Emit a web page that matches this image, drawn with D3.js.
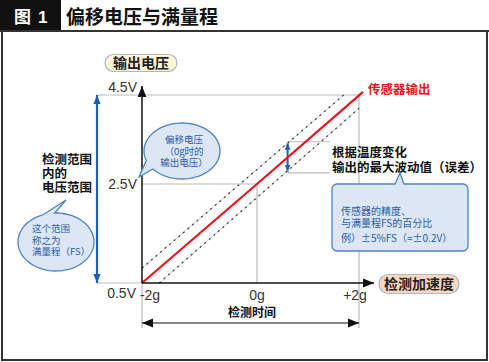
<!DOCTYPE html>
<html>
<head>
<meta charset="utf-8">
<script src="https://cdn.jsdelivr.net/npm/d3@7"></script>
<style>
  html, body { margin: 0; padding: 0; background: #fff; }
  svg { display: block; font-family: "Noto Sans CJK SC", "Noto Sans", sans-serif; }
</style>
</head>
<body>
<div id="chart"></div>
<script>
// ---- data ----
const accelTicks = [-2, 0, 2];
const accelLabels = ["-2g", "0g", "+2g"];
const voltTicks = [0.5, 2.5, 4.5];
const voltLabels = ["0.5V", "2.5V", "4.5V"];
// sensor output (g -> V)
const outputLine = [[-2, 0.5], [0, 2.5], [2.08, 4.57]];
// error band (± visual offset)
const upperBand = [[-2, 0.8], [1.7, 4.5]];
const lowerBand = [[-1.7, 0.5], [2, 4.2]];
const errorAt = 0.6;          // g where the error arrow sits
const errorRange = [2.75, 3.45];

const W = 489, H = 362;

const svg = d3.select("#chart").append("svg")
    .attr("width", W).attr("height", H);

const defs = svg.append("defs");
function marker(id, color, size) {
    defs.append("marker")
        .attr("id", id)
        .attr("viewBox", "0 0 10 10")
        .attr("refX", 10).attr("refY", 5)
        .attr("markerWidth", size).attr("markerHeight", size)
        .attr("markerUnits", "userSpaceOnUse")
        .attr("orient", "auto-start-reverse")
        .append("path")
        .attr("d", "M0,1 L10,5 L0,9 Z")
        .attr("fill", color);
}
marker("arrBlack", "#111", 11);
marker("arrBlue", "#1a5fb4", 9);
marker("arrBlue2", "#1a5fb4", 7);

// ---- frame & title ----
svg.append("rect").attr("x", 0).attr("y", 0).attr("width", 61).attr("height", 31).attr("fill", "#111");
svg.append("text").attr("x", 14).attr("y", 23).attr("fill", "#fff")
    .attr("font-size", 17).attr("font-weight", "bold").text("图");
svg.append("text").attr("x", 38).attr("y", 23).attr("fill", "#fff")
    .attr("font-size", 17).attr("font-weight", "bold")
    .attr("font-family", "Liberation Sans, Arial, sans-serif").text("1");
svg.append("text").attr("x", 66).attr("y", 24).attr("fill", "#111")
    .attr("font-size", 19).attr("font-weight", "bold").text("偏移电压与满量程");
svg.append("line").attr("x1", 0).attr("x2", W).attr("y1", 31).attr("y2", 31)
    .attr("stroke", "#333").attr("stroke-width", 2);
svg.append("path").attr("d", `M2,31 V360 H487 V31`)
    .attr("fill", "none").attr("stroke", "#333").attr("stroke-width", 2);

// ---- scales ----
const x = d3.scaleLinear().domain([-2, 0, 2]).range([142, 257, 359]);
const y = d3.scaleLinear().domain([0.5, 2.5, 4.5]).range([283, 184, 95]);
const line = d3.line().x(d => x(d[0])).y(d => y(d[1]));

const grid = svg.append("g").attr("stroke", "#bbb").attr("stroke-width", 1.2);
// horizontal grid
grid.append("line").attr("x1", 97).attr("x2", x(2)).attr("y1", y(4.5)).attr("y2", y(4.5));
grid.append("line").attr("x1", 97).attr("x2", x(-2)).attr("y1", y(0.5)).attr("y2", y(0.5));
grid.append("line").attr("x1", x(-2)).attr("x2", x(0)).attr("y1", y(2.5)).attr("y2", y(2.5));
// vertical grid
grid.append("line").attr("x1", x(0)).attr("x2", x(0)).attr("y1", y(2.5)).attr("y2", y(0.5));
grid.append("line").attr("x1", x(2)).attr("x2", x(2)).attr("y1", y(4.5)).attr("y2", 328);
grid.append("line").attr("x1", x(-2)).attr("x2", x(-2)).attr("y1", y(0.5)).attr("y2", 328);

// error bracket lines
const errG = svg.append("g");
errorRange.forEach(v => {
    errG.append("line").attr("x1", x(errorAt)).attr("x2", 330)
        .attr("y1", y(v)).attr("y2", y(v)).attr("stroke", "#bbb").attr("stroke-width", 1.2);
});

// error band dashed lines
[upperBand, lowerBand].forEach(b => {
    svg.append("path").attr("d", line(b)).attr("fill", "none")
        .attr("stroke", "#d0d0d0").attr("stroke-width", 1);
    svg.append("path").attr("d", line(b)).attr("fill", "none")
        .attr("stroke", "#444").attr("stroke-width", 1.3).attr("stroke-dasharray", "2,4");
});

// sensor output
svg.append("path").attr("d", line(outputLine)).attr("fill", "none")
    .attr("stroke", "#e8141b").attr("stroke-width", 2.2);

// error arrow
errG.append("line").attr("x1", x(errorAt)).attr("x2", x(errorAt))
    .attr("y1", y(errorRange[0]) - 1).attr("y2", y(errorRange[1]) + 1)
    .attr("stroke", "#1a5fb4").attr("stroke-width", 2)
    .attr("marker-start", "url(#arrBlue2)").attr("marker-end", "url(#arrBlue2)");

// axes
svg.append("line").attr("x1", x(-2)).attr("x2", x(-2)).attr("y1", y(0.5)).attr("y2", 86)
    .attr("stroke", "#111").attr("stroke-width", 1.5).attr("marker-end", "url(#arrBlack)");
svg.append("line").attr("x1", x(-2)).attr("x2", 374).attr("y1", y(0.5)).attr("y2", y(0.5))
    .attr("stroke", "#111").attr("stroke-width", 1.5).attr("marker-end", "url(#arrBlack)");

// tick labels
const tickFont = "Liberation Sans, Arial, sans-serif";
svg.append("g").selectAll("text").data(voltTicks).join("text")
    .attr("x", d => d === 0.5 ? 136 : 137)
    .attr("y", (d, i) => [y(0.5) + 15, y(2.5) + 5, y(4.5) - 3][i])
    .attr("text-anchor", "end").attr("font-family", tickFont)
    .attr("font-size", 14).attr("fill", "#333")
    .text((d, i) => voltLabels[i]);
svg.append("g").selectAll("text").data(accelTicks).join("text")
    .attr("x", (d, i) => x(d) + [8, 0, -4][i])
    .attr("y", y(0.5) + 17)
    .attr("text-anchor", "middle").attr("font-family", tickFont)
    .attr("font-size", 14).attr("fill", "#333")
    .text((d, i) => accelLabels[i]);

// detection time arrow
svg.append("line").attr("x1", x(-2)).attr("x2", x(2)).attr("y1", 323).attr("y2", 323)
    .attr("stroke", "#111").attr("stroke-width", 1.2)
    .attr("marker-start", "url(#arrBlack)").attr("marker-end", "url(#arrBlack)");
svg.append("text").attr("x", 252).attr("y", 317).attr("text-anchor", "middle")
    .attr("font-size", 12).attr("font-weight", "bold").attr("fill", "#111").text("检测时间");

// full-scale arrow on the left
svg.append("line").attr("x1", 97).attr("x2", 97).attr("y1", y(0.5)).attr("y2", y(4.5))
    .attr("stroke", "#1a5fb4").attr("stroke-width", 2.2)
    .attr("marker-start", "url(#arrBlue)").attr("marker-end", "url(#arrBlue)");

["检测范围", "内的", "电压范围"].forEach((t, i) => {
    svg.append("text").attr("x", 42).attr("y", 164 + i * 14)
        .attr("font-size", 12.5).attr("font-weight", "bold").attr("fill", "#111").text(t);
});

// pill labels
function pill(cx, cy, w, h, fill, stroke, label) {
    svg.append("rect").attr("x", cx - w / 2).attr("y", cy - h / 2)
        .attr("width", w).attr("height", h).attr("rx", h / 2)
        .attr("fill", fill).attr("stroke", stroke).attr("stroke-width", 1.2);
    svg.append("text").attr("x", cx).attr("y", cy + 5).attr("text-anchor", "middle")
        .attr("font-size", 14).attr("font-weight", "bold").attr("fill", "#222").text(label);
}
pill(141, 63, 72, 17, "#fdf5d4", "#a9b6cc", "输出电压");
pill(419, 284, 80, 19, "#fbd7c0", "#a9b6cc", "检测加速度");

// sensor output label
svg.append("text").attr("x", 368).attr("y", 94).attr("font-size", 12.5)
    .attr("font-weight", "bold").attr("fill", "#e8141b").text("传感器输出");

// error note
["根据温度变化", "输出的最大波动值（误差）"].forEach((t, i) => {
    svg.append("text").attr("x", 332).attr("y", 157 + i * 15)
        .attr("font-size", 12.5).attr("font-weight", "bold").attr("fill", "#111").text(t);
});

// callout bubbles
const bubbleFill = "#dce6f4", bubbleStroke = "#4f82c4", bubbleText = "#2a5ca8";

function speechEllipse(cx, cy, rx, ry, a1, a2, tip) {
    // ellipse outline with a tail between angles a1..a2 (degrees)
    const p = d3.path();
    const r1 = a1 * Math.PI / 180, r2 = a2 * Math.PI / 180;
    const steps = 80;
    p.moveTo(cx + rx * Math.cos(r2), cy + ry * Math.sin(r2));
    for (let k = 1; k <= steps; k++) {
        const a = r2 + (2 * Math.PI - (r2 - r1)) * k / steps;
        p.lineTo(cx + rx * Math.cos(a), cy + ry * Math.sin(a));
    }
    p.lineTo(tip[0], tip[1]);
    p.closePath();
    svg.append("path").attr("d", p.toString()).attr("fill", bubbleFill)
        .attr("stroke", bubbleStroke).attr("stroke-width", 1.3);
}

// offset voltage bubble
speechEllipse(182, 151, 38, 28, 140, 160, [139, 177]);
["偏移电压", "（0g时的", "输出电压）"].forEach((t, i) => {
    svg.append("text").attr("x", 184).attr("y", 143 + i * 11.5).attr("text-anchor", "middle")
        .attr("font-size", 9.5).attr("fill", bubbleText).text(t);
});

// full-scale bubble
speechEllipse(56, 242, 38, 29, 250, 268, [66, 200]);
["这个范围", "称之为", "满量程（FS）"].forEach((t, i) => {
    svg.append("text").attr("x", 32).attr("y", 232 + i * 11.5)
        .attr("font-size", 9.5).attr("fill", bubbleText).text(t);
});

// accuracy box with tail on top
{
    const bx = 332, by = 184, bw = 136, bh = 67, r = 5, t1 = 395, t2 = 404, tip = [400, 173];
    const p = d3.path();
    p.moveTo(bx + r, by);
    p.lineTo(t1, by); p.lineTo(tip[0], tip[1]); p.lineTo(t2, by);
    p.lineTo(bx + bw - r, by); p.arcTo(bx + bw, by, bx + bw, by + r, r);
    p.lineTo(bx + bw, by + bh - r); p.arcTo(bx + bw, by + bh, bx + bw - r, by + bh, r);
    p.lineTo(bx + r, by + bh); p.arcTo(bx, by + bh, bx, by + bh - r, r);
    p.lineTo(bx, by + r); p.arcTo(bx, by, bx + r, by, r);
    p.closePath();
    svg.append("path").attr("d", p.toString()).attr("fill", bubbleFill)
        .attr("stroke", bubbleStroke).attr("stroke-width", 1.3);
    ["传感器的精度、", "与满量程FS的百分比", "例）±5%FS（=±0.2V）"].forEach((t, i) => {
        svg.append("text").attr("x", 341).attr("y", [215, 227, 242][i])
            .attr("font-size", 10).attr("fill", bubbleText).text(t);
    });
}
</script>
</body>
</html>
